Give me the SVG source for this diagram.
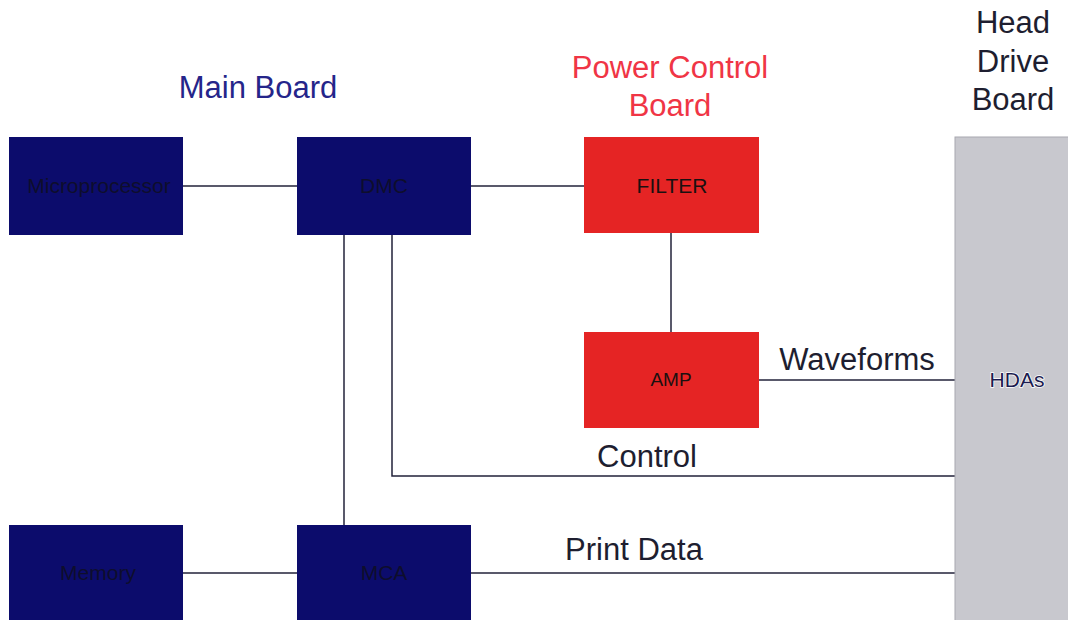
<svg xmlns="http://www.w3.org/2000/svg" width="1068" height="620" viewBox="0 0 1068 620">
<style>
.nb{fill:#0c0c6c}
.rb{fill:#e52424}
.gb{fill:#c8c8ce;stroke:#a8a8b0;stroke-width:1}
.bt{font-family:"Liberation Sans",Arial,sans-serif;font-size:21px;text-anchor:middle;fill:#0e0e2c}
.rt{font-family:"Liberation Sans",Arial,sans-serif;font-size:21px;text-anchor:middle;fill:#1a1010}
.lbl{font-family:"Liberation Sans",Arial,sans-serif;font-size:31px;text-anchor:middle;fill:#1e1e30}
.ln{stroke:#22223a;stroke-width:1.5;fill:none}
</style>
<rect width="1068" height="620" fill="#ffffff"/>
<g id="titles">
<text class="lbl" x="258" y="98" style="fill:#25258a">Main Board</text>
<text class="lbl" x="670" y="78" style="fill:#f03545">Power Control</text>
<text class="lbl" x="670" y="116" style="fill:#f03545">Board</text>
<text class="lbl" x="1013" y="33">Head</text>
<text class="lbl" x="1013" y="72">Drive</text>
<text class="lbl" x="1013" y="110">Board</text>
</g>
<g id="connectors">
<line class="ln" x1="183" y1="186" x2="297" y2="186"/>
<line class="ln" x1="471" y1="186" x2="584" y2="186"/>
<line class="ln" x1="671" y1="233" x2="671" y2="332"/>
<line class="ln" x1="759" y1="380" x2="955" y2="380"/>
<line class="ln" x1="344" y1="235" x2="344" y2="525"/>
<polyline class="ln" points="392,235 392,476 955,476"/>
<line class="ln" x1="183" y1="573" x2="297" y2="573"/>
<line class="ln" x1="471" y1="573" x2="955" y2="573"/>
</g>
<g id="connector-labels">
<text class="lbl" x="857" y="370">Waveforms</text>
<text class="lbl" x="647" y="467">Control</text>
<text class="lbl" x="634" y="560">Print Data</text>
</g>
<g id="microprocessor">
<rect class="nb" x="9" y="137" width="174" height="98"/>
<text class="bt" x="99" y="193">Microprocessor</text>
</g>
<g id="dmc">
<rect class="nb" x="297" y="137" width="174" height="98"/>
<text class="bt" x="384" y="193">DMC</text>
</g>
<g id="memory">
<rect class="nb" x="9" y="525" width="174" height="100"/>
<text class="bt" x="98" y="580">Memory</text>
</g>
<g id="mca">
<rect class="nb" x="297" y="525" width="174" height="100"/>
<text class="bt" x="384" y="580">MCA</text>
</g>
<g id="filter">
<rect class="rb" x="584" y="137" width="175" height="96"/>
<text class="rt" x="672" y="193">FILTER</text>
</g>
<g id="amp">
<rect class="rb" x="584" y="332" width="175" height="96"/>
<text class="rt" x="671" y="386" style="font-size:19px">AMP</text>
</g>
<g id="hdas">
<rect class="gb" x="955" y="137" width="120" height="490"/>
<text class="bt" x="1017" y="387" style="fill:#1c1c50;stroke:#ffffff;stroke-width:1.5;paint-order:stroke">HDAs</text>
</g>
</svg>
